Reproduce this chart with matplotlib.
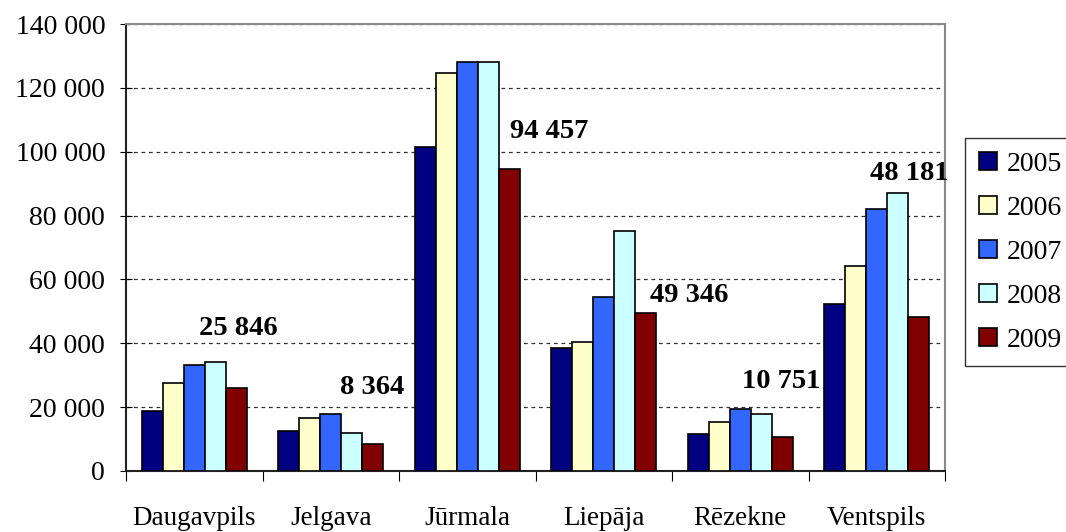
import numpy as np
import matplotlib
matplotlib.use('Agg')
import matplotlib.pyplot as plt
from matplotlib.ticker import FuncFormatter

cities = ['Daugavpils', 'Jelgava', 'Jūrmala', 'Liepāja', 'Rēzekne', 'Ventspils']
years = ['2005', '2006', '2007', '2008', '2009']

v2005 = [18800, 12500, 101400, 38500, 11600, 52300]
v2006 = [27500, 16600, 124600, 40400, 15300, 64200]
v2007 = [33200, 17800, 128000, 54500, 19400, 82000]
v2008 = [34100, 11900, 128000, 75100, 17800, 87000]
v2009 = [25846, 8364, 94457, 49346, 10751, 48181]

colors = ['#000080', '#FFFFCC', '#3366FF', '#CCFFFF', '#800000']
# label offsets (pixels) relative to top of 2009 bar
lbl_dx = [2, -1, 40, 43, -1, -9]
lbl_dy = [60, 57, 38, 18, 55, 144]

plt.rcParams['font.family'] = ['Liberation Serif', 'DejaVu Serif']

fig = plt.figure(figsize=(10.66, 5.32), dpi=100)
ax = fig.add_axes([126 / 1066, 1 - 471 / 532, (945 - 126) / 1066, (471 - 24) / 532])

x = np.arange(len(cities))
w = 0.154
series = [v2005, v2006, v2007, v2008, v2009]
for i, vals in enumerate(series):
    ax.bar(x + (i - 2) * w, vals, w, color=colors[i], edgecolor='black',
           linewidth=1.2, label=years[i], zorder=3)

for i, v in enumerate(v2009):
    ax.annotate('{:,}'.format(v).replace(',', ' '), (x[i] + 2 * w, v),
                xytext=(lbl_dx[i], lbl_dy[i]), textcoords='offset pixels',
                ha='center', va='center', fontsize=20.5, fontweight='bold')

ax.set_xlim(-0.5, len(cities) - 0.5)
ax.set_ylim(0, 140000)
ax.set_yticks(np.arange(0, 140001, 20000))
ax.yaxis.set_major_formatter(FuncFormatter(lambda v, p: '{:,}'.format(int(v)).replace(',', ' ')))
ax.yaxis.grid(True, linestyle=(0, (3, 3)), color='#333333', linewidth=0.9, zorder=0)
ax.tick_params(axis='y', direction='inout', length=8, labelsize=20, pad=11)

ax.set_xticks(np.arange(-0.5, len(cities), 1))
ax.set_xticklabels([])
ax.set_xticks(x, minor=True)
ax.set_xticklabels(cities, minor=True)
ax.tick_params(axis='x', which='major', direction='out', length=7, color='black')
ax.tick_params(axis='x', which='minor', length=0, pad=25, labelsize=19.5)

ax.spines['left'].set_color('#222222')
ax.spines['bottom'].set_color('#222222')
ax.spines['top'].set_color('#888888')
ax.spines['right'].set_color('#888888')
for s in ax.spines.values():
    s.set_linewidth(1.5)

leg = ax.legend(loc='upper left', bbox_to_anchor=(1.0244, 0.745), fontsize=20,
                frameon=True, fancybox=False, edgecolor='black', handlelength=0.65,
                handleheight=0.65, handletextpad=0.35, labelspacing=0.68,
                borderpad=0.5, borderaxespad=0)
leg.get_frame().set_linewidth(1.0)

fig.savefig('out.png', dpi=100)
